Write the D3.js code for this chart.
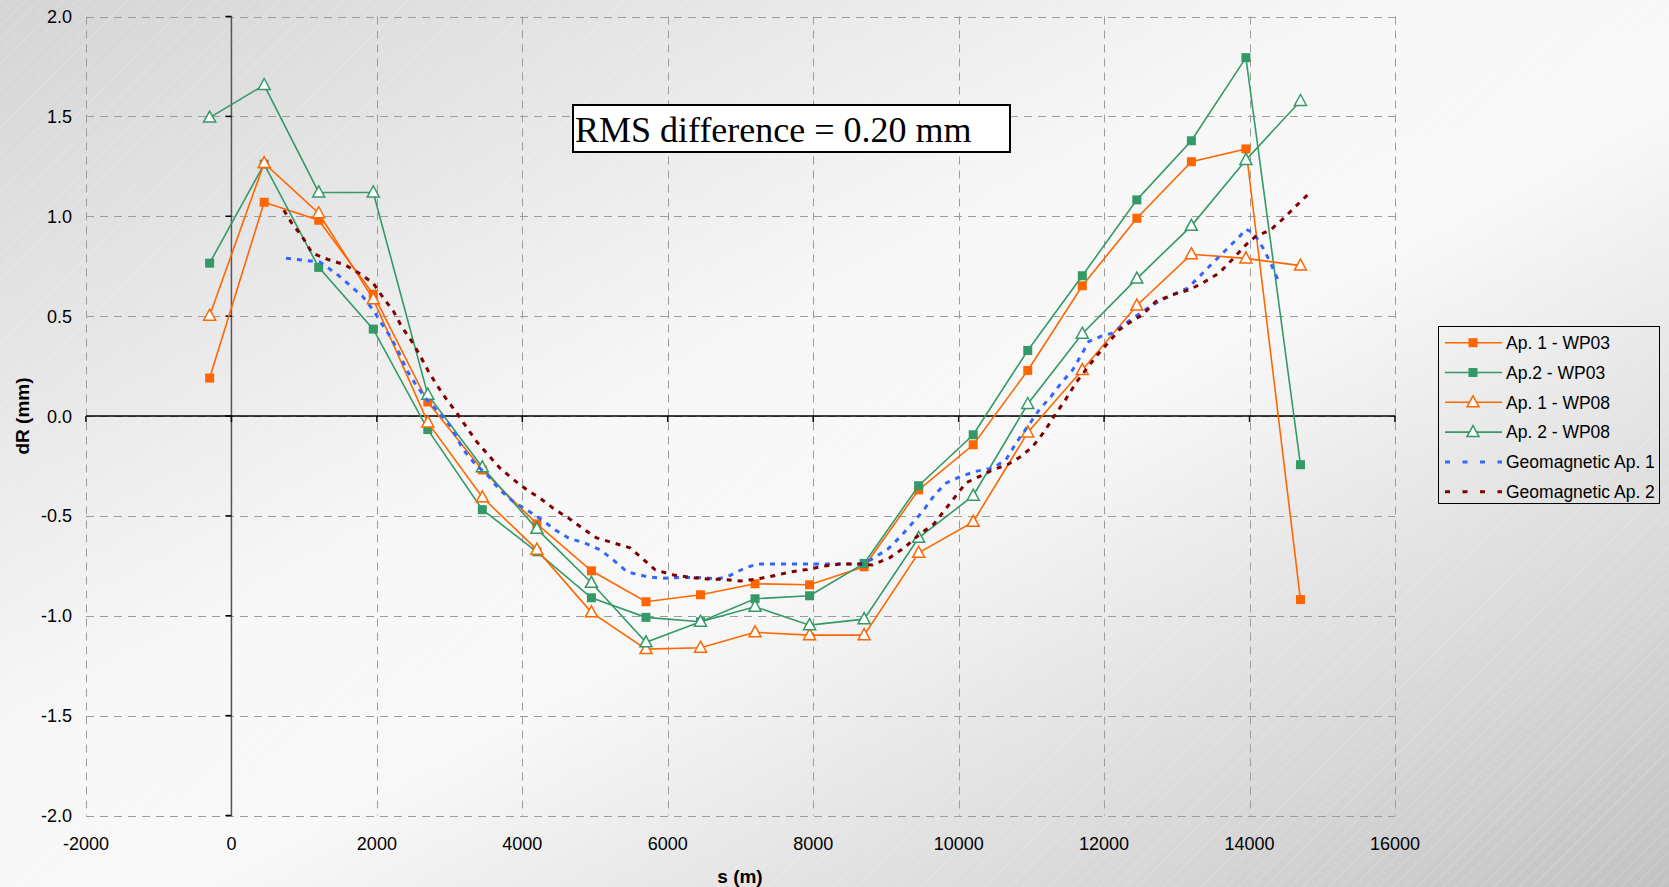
<!DOCTYPE html>
<html>
<head>
<meta charset="utf-8">
<script src="https://cdn.jsdelivr.net/npm/d3@7"></script>
<style>
  html, body { margin: 0; padding: 0; overflow: hidden; }
  svg { display: block; }
  text { font-family: "Liberation Sans", Arial, sans-serif; fill: #000; }
</style>
</head>
<body>
<script>
// positions along the ring (m)
const sPos = [-300, 450, 1200, 1950, 2700, 3450, 4200, 4950, 5700, 6450, 7200,
              7950, 8700, 9450, 10200, 10950, 11700, 12450, 13200, 13950, 14700];

const ap1WP03 = [0.19, 1.07, 0.98, 0.61, 0.07, -0.27, -0.54, -0.775, -0.93, -0.895, -0.84,
                 -0.845, -0.755, -0.37, -0.144, 0.228, 0.652, 0.99, 1.273, 1.337, -0.919];
const ap2WP03 = [0.765, 1.261, 0.744, 0.435, -0.068, -0.469, -0.68, -0.91, -1.008, -1.03, -0.915,
                 -0.90, -0.738, -0.349, -0.094, 0.328, 0.702, 1.082, 1.378, 1.794, -0.244];
const ap1WP08 = [0.502, 1.266, 1.015, 0.585, -0.032, -0.407, -0.669, -0.983, -1.167, -1.16, -1.083,
                 -1.097, -1.097, -0.685, -0.53, -0.082, 0.23, 0.553, 0.81, 0.789, 0.753];
const ap2WP08 = [1.494, 1.657, 1.119, 1.119, 0.107, -0.257, -0.565, -0.835, -1.133, -1.03, -0.955,
                 -1.047, -1.017, -0.61, -0.399, 0.06, 0.412, 0.688, 0.952, 1.282, 1.577];

// geomagnetic curves, traced
const geo1S = [750, 1000, 1220, 1450, 1610, 1800, 1950, 2070, 2180, 2300, 2410, 2530, 2690, 2850,
               3010, 3190, 3350, 3530, 3690, 3880, 4060, 4270, 4450, 4630, 4850, 5070, 5250, 5440,
               5720, 5920, 6180, 6410, 6680, 6820, 7050, 7230, 8650, 8790, 9030, 9210, 9510, 9670,
               9830, 10030, 10240, 10470, 10650, 10790, 10950, 11110, 11270, 11410, 11570, 11700,
               11790, 11950, 12110, 12300, 12530, 12710, 12940, 13150, 13310, 13490, 13700, 13860,
               13950, 14060, 14200, 14310, 14400];
const geo1V = [0.79, 0.78, 0.77, 0.71, 0.66, 0.60, 0.53, 0.46, 0.40, 0.32, 0.23, 0.16, 0.08, 0.02,
               -0.05, -0.17, -0.24, -0.30, -0.37, -0.43, -0.47, -0.52, -0.57, -0.61, -0.635, -0.67, -0.72, -0.78,
               -0.805, -0.813, -0.808, -0.808, -0.815, -0.805, -0.763, -0.741, -0.741, -0.72, -0.665, -0.60, -0.475, -0.394,
               -0.335, -0.302, -0.277, -0.26, -0.219, -0.135, -0.052, 0.032, 0.098, 0.165, 0.232, 0.315,
               0.373, 0.398, 0.415, 0.465, 0.523, 0.565, 0.607, 0.64, 0.698, 0.765, 0.84, 0.898,
               0.935, 0.915, 0.832, 0.748, 0.673];

const geo2S = [720, 830, 970, 1110, 1340, 1560, 1770, 1950, 2090, 2230, 2340, 2480, 2600, 2710, 2820,
               2960, 3100, 3240, 3370, 3530, 3690, 3880, 4060, 4240, 4450, 4630, 4820, 5020, 5250, 5480,
               5640, 5830, 6080, 6310, 6540, 6770, 7000, 7230, 7510, 7690, 7920, 8150, 8380, 8650, 8810,
               9050, 9250, 9470, 9660, 9800, 9940, 10100, 10290, 10470, 10670, 10860, 11020, 11180, 11310,
               11470, 11610, 11750, 11910, 12070, 12210, 12340, 12530, 12710, 12940, 13170, 13350, 13580,
               13760, 13950, 14080, 14290, 14470, 14630, 14820];
const geo2V = [1.03, 0.965, 0.90, 0.815, 0.782, 0.757, 0.712, 0.665, 0.59, 0.523, 0.448, 0.373, 0.298, 0.223, 0.157,
               0.082, 0.015, -0.06, -0.127, -0.194, -0.26, -0.319, -0.369, -0.41, -0.469, -0.51, -0.56, -0.61, -0.635, -0.66,
               -0.71, -0.771, -0.796, -0.808, -0.816, -0.818, -0.826, -0.816, -0.796, -0.78, -0.768, -0.751, -0.741, -0.741, -0.746,
               -0.71, -0.66, -0.59, -0.54, -0.475, -0.41, -0.335, -0.302, -0.269, -0.244, -0.202, -0.152, -0.077, -0.002,
               0.082, 0.165, 0.232, 0.307, 0.373, 0.432, 0.465, 0.507, 0.573, 0.607, 0.632, 0.665, 0.715,
               0.782, 0.857, 0.898, 0.932, 0.99, 1.048, 1.115];

const xTicks = [-2000, 0, 2000, 4000, 6000, 8000, 10000, 12000, 14000, 16000];
const yTicks = [-2.0, -1.5, -1.0, -0.5, 0.0, 0.5, 1.0, 1.5, 2.0];

const width = 1669, height = 887;

const svg = d3.select('body').append('svg')
    .attr('width', width)
    .attr('height', height);

// background gradient + faint hatching
const defs = svg.append('defs');
const grad = defs.append('linearGradient')
    .attr('id', 'bg')
    .attr('x1', 0).attr('y1', 0).attr('x2', 1).attr('y2', 1);
[[0, '#d4d4d4'], [0.42, '#f7f7f7'], [0.56, '#f8f8f8'], [1, '#c2c2c2']].forEach(s => {
    grad.append('stop').attr('offset', s[0]).attr('stop-color', s[1]);
});
const hatch = defs.append('pattern')
    .attr('id', 'hatch')
    .attr('width', 9).attr('height', 9)
    .attr('patternUnits', 'userSpaceOnUse')
    .attr('patternTransform', 'rotate(45)');
hatch.append('line')
    .attr('x1', 0).attr('y1', 0).attr('x2', 0).attr('y2', 9)
    .attr('stroke', '#ffffff').attr('stroke-width', 1).attr('stroke-opacity', 0.35);

svg.append('rect').attr('width', width).attr('height', height).attr('fill', 'url(#bg)');
svg.append('rect').attr('width', width).attr('height', height).attr('fill', 'url(#hatch)');

const x = d3.scaleLinear().domain([-2000, 16000]).range([86, 1395]);
const y = d3.scaleLinear().domain([-2, 2]).range([815.5, 16.5]);

// gridlines
const grid = svg.append('g')
    .attr('stroke', '#9c9c9c')
    .attr('stroke-width', 1)
    .attr('stroke-dasharray', '8,6');
grid.selectAll('.gx').data(xTicks).enter().append('line')
    .attr('x1', d => Math.round(x(d)) + 0.5).attr('x2', d => Math.round(x(d)) + 0.5)
    .attr('y1', y(2)).attr('y2', y(-2));
grid.selectAll('.gy').data(yTicks).enter().append('line')
    .attr('y1', d => Math.round(y(d)) + 0.5).attr('y2', d => Math.round(y(d)) + 0.5)
    .attr('x1', x(-2000)).attr('x2', x(16000));

// axis lines at zero
svg.append('line')
    .attr('x1', x(0)).attr('x2', x(0))
    .attr('y1', y(2)).attr('y2', y(-2))
    .attr('stroke', '#555').attr('stroke-width', 1.5);
svg.append('line')
    .attr('x1', x(-2000)).attr('x2', x(16000))
    .attr('y1', y(0)).attr('y2', y(0))
    .attr('stroke', '#000').attr('stroke-width', 1.5);

svg.selectAll('.ty').data(yTicks).enter().append('line')
    .attr('x1', x(0) - 6).attr('x2', x(0))
    .attr('y1', d => y(d)).attr('y2', d => y(d))
    .attr('stroke', '#000').attr('stroke-width', 1.5);
svg.selectAll('.tx').data(xTicks).enter().append('line')
    .attr('x1', d => x(d)).attr('x2', d => x(d))
    .attr('y1', y(0)).attr('y2', y(0) + 6)
    .attr('stroke', '#000').attr('stroke-width', 1.5);

// tick labels (plain hyphen for negatives, as in the original)
svg.selectAll('.ly').data(yTicks).enter().append('text')
    .attr('x', 72)
    .attr('y', d => y(d) + 6.5)
    .attr('text-anchor', 'end')
    .style('font-size', '18px')
    .text(d => d.toFixed(1));
svg.selectAll('.lx').data(xTicks).enter().append('text')
    .attr('x', d => x(d))
    .attr('y', 849.5)
    .attr('text-anchor', 'middle')
    .style('font-size', '18px')
    .text(d => String(d));

// axis titles
svg.append('text')
    .attr('transform', 'translate(29,416) rotate(-90)')
    .attr('text-anchor', 'middle')
    .style('font-size', '19px').style('font-weight', 'bold')
    .text('dR (mm)');
svg.append('text')
    .attr('x', 740).attr('y', 883)
    .attr('text-anchor', 'middle')
    .style('font-size', '19px').style('font-weight', 'bold')
    .text('s (m)');

// RMS annotation
svg.append('rect')
    .attr('x', 573).attr('y', 105)
    .attr('width', 437).attr('height', 47)
    .attr('fill', '#fff').attr('stroke', '#000').attr('stroke-width', 2);
svg.append('text')
    .attr('x', 575).attr('y', 141.5)
    .style('font-family', '"Liberation Serif", "Times New Roman", serif')
    .style('font-size', '36px')
    .text('RMS difference = 0.20 mm');

const orange = '#ff6600', green = '#339966', blue = '#3366ff', maroon = '#800000';

const series = [
    { name: 'Ap. 1 - WP03', vals: ap1WP03, color: orange, marker: 'square' },
    { name: 'Ap.2 - WP03', vals: ap2WP03, color: green, marker: 'square' },
    { name: 'Ap. 1 - WP08', vals: ap1WP08, color: orange, marker: 'triangle' },
    { name: 'Ap. 2 - WP08', vals: ap2WP08, color: green, marker: 'triangle' }
];
const geos = [
    { name: 'Geomagnetic Ap. 1', s: geo1S, v: geo1V, color: blue },
    { name: 'Geomagnetic Ap. 2', s: geo2S, v: geo2V, color: maroon }
];

const line = d3.line().x(d => x(d[0])).y(d => y(d[1]));
const triPath = 'M0,-6.5L6,4.5L-6,4.5Z';

function drawMarker(g, type, color, cx, cy) {
    if (type === 'square') {
        g.append('rect')
            .attr('x', cx - 4.5).attr('y', cy - 4.5)
            .attr('width', 9).attr('height', 9)
            .attr('fill', color);
    } else {
        g.append('path')
            .attr('d', triPath)
            .attr('transform', `translate(${cx},${cy})`)
            .attr('fill', '#fff')
            .attr('stroke', color).attr('stroke-width', 1.5);
    }
}

series.forEach(s => {
    const pts = sPos.map((p, i) => [p, s.vals[i]]);
    const g = svg.append('g');
    g.append('path')
        .attr('d', line(pts))
        .attr('fill', 'none')
        .attr('stroke', s.color).attr('stroke-width', 1.6);
    pts.forEach(p => drawMarker(g, s.marker, s.color, x(p[0]), y(p[1])));
});

geos.forEach(s => {
    svg.append('path')
        .attr('d', line(s.s.map((p, i) => [p, s.v[i]])))
        .attr('fill', 'none')
        .attr('stroke', s.color).attr('stroke-width', 3)
        .attr('stroke-dasharray', '5,6');
});

// legend
const leg = svg.append('g');
leg.append('rect')
    .attr('x', 1438.5).attr('y', 326.5)
    .attr('width', 221).attr('height', 177)
    .attr('fill', 'none').attr('stroke', '#000').attr('stroke-width', 1);
const rowY = d3.range(6).map(i => 342.7 + i * 29.8);
series.forEach((s, i) => {
    leg.append('line')
        .attr('x1', 1445).attr('x2', 1502)
        .attr('y1', rowY[i]).attr('y2', rowY[i])
        .attr('stroke', s.color).attr('stroke-width', 1.6);
    drawMarker(leg, s.marker, s.color, 1473, rowY[i]);
    leg.append('text')
        .attr('x', 1506).attr('y', rowY[i] + 6.3)
        .style('font-size', '17.5px')
        .text(s.name);
});
geos.forEach((s, j) => {
    const ry = rowY[4 + j];
    leg.append('line')
        .attr('x1', 1445).attr('x2', 1502)
        .attr('y1', ry).attr('y2', ry)
        .attr('stroke', s.color).attr('stroke-width', 3)
        .attr('stroke-dasharray', '5,12.5');
    leg.append('text')
        .attr('x', 1506).attr('y', ry + 6.3)
        .style('font-size', '17.5px')
        .text(s.name);
});
</script>
</body>
</html>
